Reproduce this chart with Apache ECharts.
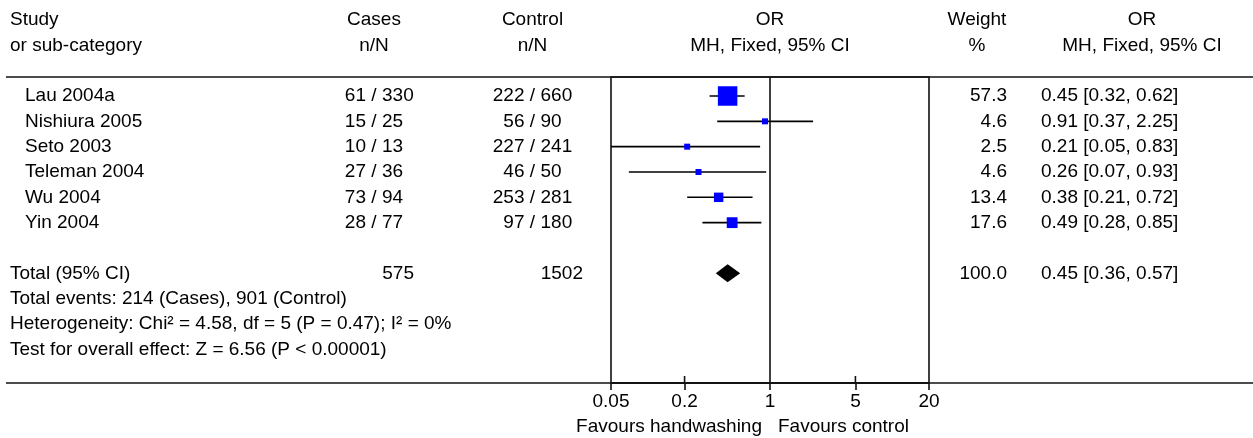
<!DOCTYPE html>
<html><head><meta charset="utf-8">
<script src="https://cdn.jsdelivr.net/npm/echarts@6/dist/echarts.min.js"></script>
<style>html,body{margin:0;padding:0;background:#fff}#c{width:1253px;height:438px}</style>
</head><body><div id="c"></div>
<script>
// ---------- data ----------
const studies = ['Lau 2004a', 'Nishiura 2005', 'Seto 2003', 'Teleman 2004', 'Wu 2004', 'Yin 2004'];
const casesEvents = [61, 15, 10, 27, 73, 28];
const casesTotal = [330, 25, 13, 36, 94, 77];
const controlEvents = [222, 56, 227, 46, 253, 97];
const controlTotal = [660, 90, 241, 50, 281, 180];
const weights = [57.3, 4.6, 2.5, 4.6, 13.4, 17.6];
const orEst = [0.45, 0.91, 0.21, 0.26, 0.38, 0.49];
const orLow = [0.32, 0.37, 0.05, 0.07, 0.21, 0.28];
const orHigh = [0.62, 2.25, 0.83, 0.93, 0.72, 0.85];
const totalLabel = 'Total (95% CI)';
const totalCases = 575;
const totalControl = 1502;
const totalWeight = 100.0;
const totalEst = 0.45, totalLow = 0.36, totalHigh = 0.57;
const footnotes = [
  'Total events: 214 (Cases), 901 (Control)',
  'Heterogeneity: Chi\u00b2 = 4.58, df = 5 (P = 0.47); I\u00b2 = 0%',
  'Test for overall effect: Z = 6.56 (P < 0.00001)'
];
const tickValues = [0.05, 0.2, 1, 5, 20];
const tickLabels = ['0.05', '0.2', '1', '5', '20'];
const innerTickValues = [0.2, 5];
const favoursLeft = 'Favours handwashing';
const favoursRight = 'Favours control';
const headers = {
  study: ['Study', 'or sub-category'],
  cases: ['Cases', 'n/N'],
  control: ['Control', 'n/N'],
  plot: ['OR', 'MH, Fixed, 95% CI'],
  weight: ['Weight', '%'],
  orText: ['OR', 'MH, Fixed, 95% CI']
};

// ---------- layout ----------
const FONT = 'Liberation Sans, Arial, sans-serif';
const FS = 19;
const G = { left: 611, top: 77, width: 318, height: 306 };
const Y_MIN = -0.75, Y_MAX = 11.33;
const TOTAL_ROW = 7;
function rowY(k) { return G.top + (k - Y_MIN) * G.height / (Y_MAX - Y_MIN); }
const X = { study: 10, studyName: 25, casesSlash: 374, controlSlash: 532.5,
            casesTotRight: 414, controlTotRight: 583, plotCenter: 770,
            weightRight: 1007, weightHead: 977, orLeft: 1041, orHead: 1142 };

const graphics = [];
function txt(x, y, s, align) {
  graphics.push({ type: 'text', silent: true, style: {
    text: s, x: x, y: y, fill: '#000', fontSize: FS, fontFamily: FONT,
    align: align || 'left', verticalAlign: 'middle' } });
}
function hline(y, x1, x2) {
  graphics.push({ type: 'line', silent: true,
    shape: { x1: x1, y1: y, x2: x2, y2: y }, style: { stroke: '#111', lineWidth: 1.6 } });
}
// headers
[[X.study, headers.study, 'left'], [X.casesSlash, headers.cases, 'center'],
 [X.controlSlash, headers.control, 'center'], [X.plotCenter, headers.plot, 'center'],
 [X.weightHead, headers.weight, 'center'], [X.orHead, headers.orText, 'center']].forEach(h => {
  txt(h[0], rowY(-3), h[1][0], h[2]);
  txt(h[0], rowY(-2), h[1][1], h[2]);
});
function fracText(slashX, y, n, N) {
  txt(slashX - 8, y, String(n), 'right');
  txt(slashX, y, '/', 'center');
  txt(slashX + 8, y, String(N), 'left');
}
const f2 = v => v.toFixed(2);
studies.forEach((s, i) => {
  const y = rowY(i);
  txt(X.studyName, y, s, 'left');
  fracText(X.casesSlash, y, casesEvents[i], casesTotal[i]);
  fracText(X.controlSlash, y, controlEvents[i], controlTotal[i]);
  txt(X.weightRight, y, weights[i].toFixed(1), 'right');
  txt(X.orLeft, y, f2(orEst[i]) + ' [' + f2(orLow[i]) + ', ' + f2(orHigh[i]) + ']', 'left');
});
const ty = rowY(TOTAL_ROW);
txt(X.study, ty, totalLabel, 'left');
txt(X.casesTotRight, ty, String(totalCases), 'right');
txt(X.controlTotRight, ty, String(totalControl), 'right');
txt(X.weightRight, ty, totalWeight.toFixed(1), 'right');
txt(X.orLeft, ty, f2(totalEst) + ' [' + f2(totalLow) + ', ' + f2(totalHigh) + ']', 'left');
footnotes.forEach((s, i) => txt(X.study, rowY(TOTAL_ROW + 1 + i), s, 'left'));
txt(X.plotCenter - 8, 426.5, favoursLeft, 'right');
txt(X.plotCenter + 8, 426.5, favoursRight, 'left');
hline(G.top, 6, 1253);
hline(G.top + G.height, 6, 1253);

// ---------- series data ----------
const studyData = studies.map((s, i) => [orLow[i], orHigh[i], orEst[i], i, weights[i]]);
const maxW = Math.max.apply(null, weights);

const option = {
  animation: false,
  backgroundColor: '#fff',
  textStyle: { fontFamily: FONT },
  grid: { left: G.left, top: G.top, width: G.width, height: G.height,
          show: true, borderColor: '#111', borderWidth: 1.6, containLabel: false },
  xAxis: {
    type: 'log', logBase: 10, min: 0.05, max: 20, position: 'bottom',
    axisLine: { show: true, onZero: false, lineStyle: { color: '#111', width: 1.6 } },
    axisTick: { show: true, inside: false, length: 7, customValues: tickValues,
                lineStyle: { color: '#111', width: 1.6 } },
    axisLabel: { show: true, customValues: tickValues, margin: 9, fontSize: FS,
                 fontFamily: FONT, color: '#000',
                 formatter: v => { const k = tickValues.findIndex(t => Math.abs(t - v) < 1e-6); return k >= 0 ? tickLabels[k] : ''; } },
    splitLine: { show: false }, minorTick: { show: false }
  },
  yAxis: {
    type: 'value', inverse: true, min: Y_MIN, max: Y_MAX,
    show: false, splitLine: { show: false }
  },
  series: [{
    type: 'custom', name: 'studies', clip: false,
    data: studyData,
    encode: { x: [0, 1, 2], y: 3 },
    renderItem: (params, api) => {
      const lo = api.coord([api.value(0), api.value(3)]);
      const hi = api.coord([api.value(1), api.value(3)]);
      const c = api.coord([api.value(2), api.value(3)]);
      const s = Math.max(6, 19.5 * Math.sqrt(api.value(4) / maxW));
      return { type: 'group', children: [
        { type: 'line', shape: { x1: lo[0], y1: lo[1], x2: hi[0], y2: hi[1] },
          style: { stroke: '#000', lineWidth: 1.6 } },
        { type: 'rect', shape: { x: c[0] - s / 2, y: c[1] - s / 2, width: s, height: s },
          style: { fill: '#0000ff', stroke: null } }
      ] };
    },
    markLine: { silent: true, symbol: 'none', label: { show: false },
      lineStyle: { color: '#111', width: 1.6, type: 'solid' },
      data: [{ xAxis: 1 }] }
  }, {
    type: 'custom', name: 'total',
    data: [[totalLow, totalHigh, totalEst, TOTAL_ROW]],
    encode: { x: [0, 1, 2], y: 3 },
    renderItem: (params, api) => {
      const lo = api.coord([api.value(0), api.value(3)]);
      const hi = api.coord([api.value(1), api.value(3)]);
      const c = api.coord([api.value(2), api.value(3)]);
      const h = 9;
      return { type: 'polygon', shape: { points: [[lo[0], c[1]], [c[0], c[1] - h], [hi[0], c[1]], [c[0], c[1] + h]] },
               style: { fill: '#000' } };
    }
  }, {
    type: 'custom', name: 'innerTicks', clip: false, silent: true,
    data: innerTickValues.map(v => [v, Y_MAX]),
    encode: { x: 0, y: 1 },
    renderItem: (params, api) => {
      const p = api.coord([api.value(0), api.value(1)]);
      return { type: 'line', shape: { x1: p[0], y1: p[1], x2: p[0], y2: p[1] - 7 },
               style: { stroke: '#111', lineWidth: 1.6 } };
    }
  }],
  graphic: { elements: graphics }
};
const chart = echarts.init(document.getElementById('c'), null, { renderer: 'canvas' });
chart.setOption(option);
</script>
</body></html>
